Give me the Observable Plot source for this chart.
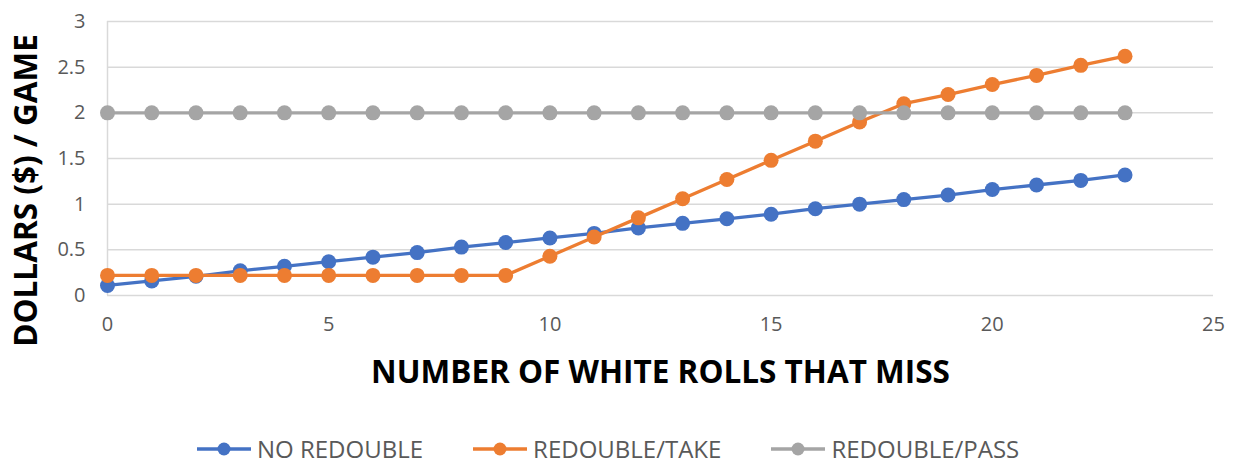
<!DOCTYPE html>
<html><head><meta charset="utf-8">
<script src="https://cdn.jsdelivr.net/npm/d3@7"></script>
<script src="https://cdn.jsdelivr.net/npm/@observablehq/plot@0.6"></script>
<style>
body{margin:0;background:#fff;font-family:"Open Sans",sans-serif;}
#wrap{position:relative;width:1233px;height:466px;}
#legend{position:absolute;left:197px;top:436px;height:26px;display:flex;justify-content:flex-start;align-items:center;gap:50px;}
.item{display:flex;align-items:center;gap:6px;font-size:24px;line-height:1;color:#595959;white-space:nowrap;height:26px;}
.item span{line-height:1;}
</style></head><body>
<div id="wrap"><div id="chart"></div><div id="legend"></div></div>
<script>
const rolls = [0,1,2,3,4,5,6,7,8,9,10,11,12,13,14,15,16,17,18,19,20,21,22,23];
const noRedouble = [0.11,0.16,0.21,0.27,0.32,0.37,0.42,0.47,0.53,0.58,0.63,0.68,0.74,0.79,0.84,0.89,0.95,1.00,1.05,1.10,1.16,1.21,1.26,1.32];
const redoubleTake = [0.22,0.22,0.22,0.22,0.22,0.22,0.22,0.22,0.22,0.22,0.43,0.64,0.85,1.06,1.27,1.48,1.69,1.90,2.10,2.20,2.31,2.41,2.52,2.62];
const redoublePass = [2,2,2,2,2,2,2,2,2,2,2,2,2,2,2,2,2,2,2,2,2,2,2,2];
const seriesNames = ["NO REDOUBLE","REDOUBLE/TAKE","REDOUBLE/PASS"];
const seriesColors = ["#4472C4","#ED7D31","#A5A5A5"];
const xTicks = [0,5,10,15,20,25];
const yTicks = [0,0.5,1,1.5,2,2.5,3];
const xTitle = "NUMBER OF WHITE ROLLS THAT MISS";
const yTitle = "DOLLARS ($) / GAME";

const seriesValues = [noRedouble, redoubleTake, redoublePass];

const seriesMarks = seriesValues.flatMap((vals, i) => {
  const rows = rolls.map((x, j) => ({x, y: vals[j], s: seriesNames[i]}));
  return [
    Plot.line(rows, {x: "x", y: "y", stroke: seriesColors[i], strokeWidth: 3.3}),
    Plot.dot(rows, {x: "x", y: "y", fill: seriesColors[i], r: 7.5, stroke: "none"})
  ];
});

const chart = Plot.plot({
  width: 1233, height: 432,
  marginLeft: 107, marginRight: 20, marginTop: 21, marginBottom: 137,
  style: {fontFamily: '"Open Sans",sans-serif', background: "#fff", overflow: "visible"},
  x: {domain: [0, 25]},
  y: {domain: [0, 3]},
  marks: [
    Plot.gridY(yTicks, {stroke: "#d9d9d9", strokeOpacity: 1, strokeWidth: 1.5}),
    Plot.ruleX([0], {stroke: "#d9d9d9", strokeWidth: 1.5}),
    Plot.axisY(yTicks, {tickSize: 0, tickPadding: 22, label: null, fontSize: 20, fill: "#595959", tickFormat: d => String(d)}),
    Plot.axisX(xTicks, {tickSize: 0, tickPadding: 21, label: null, fontSize: 20, fill: "#595959", tickFormat: d => String(d)}),
    ...seriesMarks,
    Plot.text([xTitle], {frameAnchor: "bottom", dy: 77, lineAnchor: "middle", textAnchor: "middle", fontSize: 31.5, fontWeight: "bold", fill: "#000"}),
    Plot.text([yTitle], {frameAnchor: "left", dx: -81, dy: 32, rotate: -90, lineAnchor: "middle", textAnchor: "middle", fontSize: 31.5, fontWeight: "bold", fill: "#000"})
  ]
});
document.getElementById("chart").appendChild(chart);

const legend = document.getElementById("legend");
seriesNames.forEach((name, i) => {
  const item = document.createElement("div");
  item.className = "item";
  item.innerHTML = `<svg width="54" height="20"><line x1="0" x2="54" y1="10" y2="10" stroke="${seriesColors[i]}" stroke-width="3.3"/><circle cx="27" cy="10" r="6.5" fill="${seriesColors[i]}"/></svg><span>${name}</span>`;
  legend.appendChild(item);
});
</script>
</body></html>
